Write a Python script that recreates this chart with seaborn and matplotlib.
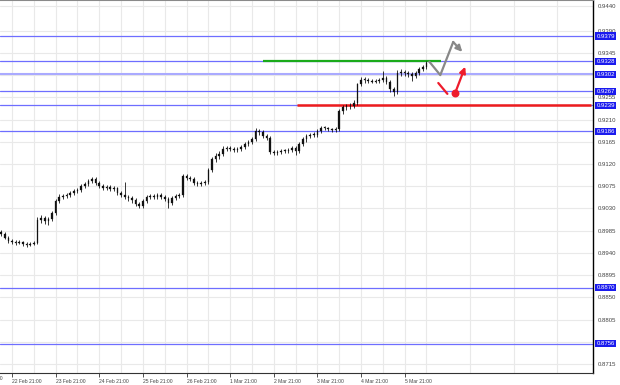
import matplotlib
matplotlib.use("Agg")
import matplotlib.pyplot as plt
import seaborn as sns
import pandas as pd
from matplotlib.transforms import blended_transform_factory

# ---------------- data (H2 bars, hours from 22 Feb 21:00) ----------------
bar_hours = list(range(-6, 229, 2))

opens = [0.8983, 0.8979, 0.8971, 0.8965, 0.8963, 0.8961, 0.8963, 0.8959, 0.8957, 0.8959,
         0.8961, 0.9007, 0.9011, 0.9005, 0.9009, 0.9021, 0.9045, 0.9053, 0.9055, 0.9057,
         0.9061, 0.9065, 0.9067, 0.9075, 0.9079, 0.9085, 0.9089, 0.9081, 0.9075, 0.9071,
         0.9073, 0.9069, 0.9071, 0.9061, 0.9057, 0.9053, 0.9051, 0.9047, 0.9039, 0.9035,
         0.9045, 0.9053, 0.9055, 0.9053, 0.9057, 0.9053, 0.9049, 0.9041, 0.9051, 0.9055,
         0.9057, 0.9095, 0.9091, 0.9089, 0.9081, 0.9079, 0.9081, 0.9083, 0.9107, 0.9131,
         0.9137, 0.9141, 0.9151, 0.9153, 0.9151, 0.9149, 0.9151, 0.9155, 0.9161, 0.9165,
         0.9171, 0.9187, 0.9185, 0.9177, 0.9173, 0.9145, 0.9143, 0.9145, 0.9147, 0.9147,
         0.9149, 0.9153, 0.9147, 0.9161, 0.9171, 0.9177, 0.9179, 0.9179, 0.9187, 0.9193,
         0.9193, 0.9191, 0.9189, 0.9191, 0.9227, 0.9235, 0.9237, 0.9237, 0.9243, 0.9281,
         0.9291, 0.9291, 0.9289, 0.9287, 0.9289, 0.9291, 0.9295, 0.9287, 0.9271, 0.9265,
         0.9305, 0.9307, 0.9305, 0.9303, 0.9299, 0.9305, 0.9313, 0.9317]

closes = [0.8979, 0.8971, 0.8965, 0.8963, 0.8961, 0.8963, 0.8959, 0.8957, 0.8959, 0.8961,
          0.9007, 0.9011, 0.9005, 0.9009, 0.9021, 0.9045, 0.9053, 0.9055, 0.9057, 0.9061,
          0.9065, 0.9067, 0.9075, 0.9079, 0.9085, 0.9089, 0.9081, 0.9075, 0.9071, 0.9073,
          0.9069, 0.9071, 0.9061, 0.9057, 0.9053, 0.9051, 0.9047, 0.9039, 0.9035, 0.9045,
          0.9053, 0.9055, 0.9053, 0.9057, 0.9053, 0.9049, 0.9041, 0.9051, 0.9055, 0.9057,
          0.9095, 0.9091, 0.9089, 0.9081, 0.9079, 0.9081, 0.9083, 0.9107, 0.9131, 0.9137,
          0.9141, 0.9151, 0.9153, 0.9151, 0.9149, 0.9151, 0.9155, 0.9161, 0.9165, 0.9171,
          0.9187, 0.9185, 0.9177, 0.9173, 0.9145, 0.9143, 0.9145, 0.9147, 0.9147, 0.9149,
          0.9153, 0.9147, 0.9161, 0.9171, 0.9177, 0.9179, 0.9179, 0.9187, 0.9193, 0.9193,
          0.9191, 0.9189, 0.9191, 0.9227, 0.9235, 0.9237, 0.9237, 0.9243, 0.9281, 0.9291,
          0.9291, 0.9289, 0.9287, 0.9289, 0.9291, 0.9295, 0.9287, 0.9271, 0.9265, 0.9305,
          0.9307, 0.9305, 0.9303, 0.9299, 0.9305, 0.9313, 0.9317, 0.9325]

highs = [0.8987, 0.8982, 0.8974, 0.8969, 0.8967, 0.8966, 0.8965, 0.8962, 0.8962, 0.8964,
         0.9012, 0.9017, 0.9015, 0.9013, 0.9025, 0.9049, 0.9059, 0.9060, 0.9061, 0.9065,
         0.9069, 0.9071, 0.9079, 0.9083, 0.9089, 0.9094, 0.9093, 0.9085, 0.9079, 0.9077,
         0.9077, 0.9075, 0.9074, 0.9065, 0.9083, 0.9057, 0.9055, 0.9051, 0.9043, 0.9049,
         0.9057, 0.9060, 0.9059, 0.9061, 0.9061, 0.9057, 0.9053, 0.9055, 0.9059, 0.9061,
         0.9099, 0.9099, 0.9095, 0.9093, 0.9085, 0.9085, 0.9087, 0.9111, 0.9135, 0.9143,
         0.9147, 0.9157, 0.9157, 0.9157, 0.9155, 0.9155, 0.9159, 0.9165, 0.9169, 0.9175,
         0.9193, 0.9191, 0.9189, 0.9181, 0.9177, 0.9149, 0.9149, 0.9151, 0.9151, 0.9153,
         0.9157, 0.9157, 0.9165, 0.9175, 0.9181, 0.9183, 0.9185, 0.9191, 0.9197, 0.9197,
         0.9195, 0.9193, 0.9195, 0.9231, 0.9239, 0.9241, 0.9243, 0.9249, 0.9285, 0.9297,
         0.9297, 0.9295, 0.9293, 0.9293, 0.9295, 0.9309, 0.9299, 0.9291, 0.9275, 0.9311,
         0.9313, 0.9311, 0.9309, 0.9307, 0.9309, 0.9317, 0.9321, 0.9329]

lows = [0.8975, 0.8968, 0.8961, 0.8959, 0.8957, 0.8958, 0.8955, 0.8953, 0.8954, 0.8956,
        0.8958, 0.9001, 0.8999, 0.8997, 0.9004, 0.9017, 0.9041, 0.9049, 0.9051, 0.9053,
        0.9057, 0.9061, 0.9063, 0.9071, 0.9075, 0.9081, 0.9077, 0.9071, 0.9067, 0.9067,
        0.9065, 0.9065, 0.9057, 0.9053, 0.9049, 0.9045, 0.9041, 0.9035, 0.9031, 0.9031,
        0.9041, 0.9049, 0.9049, 0.9049, 0.9049, 0.9045, 0.9031, 0.9037, 0.9047, 0.9051,
        0.9053, 0.9087, 0.9085, 0.9077, 0.9075, 0.9075, 0.9077, 0.9079, 0.9103, 0.9125,
        0.9131, 0.9137, 0.9147, 0.9147, 0.9145, 0.9145, 0.9147, 0.9151, 0.9157, 0.9161,
        0.9167, 0.9179, 0.9173, 0.9169, 0.9141, 0.9139, 0.9139, 0.9141, 0.9143, 0.9143,
        0.9145, 0.9139, 0.9143, 0.9157, 0.9165, 0.9173, 0.9175, 0.9175, 0.9183, 0.9189,
        0.9187, 0.9185, 0.9185, 0.9187, 0.9221, 0.9229, 0.9231, 0.9233, 0.9239, 0.9277,
        0.9285, 0.9285, 0.9283, 0.9283, 0.9285, 0.9287, 0.9281, 0.9265, 0.9257, 0.9261,
        0.9299, 0.9299, 0.9297, 0.9289, 0.9295, 0.9301, 0.9309, 0.9313]

# horizontal levels with price boxes
level_prices = [0.9379, 0.9328, 0.9302, 0.9267, 0.9239, 0.9186, 0.8870, 0.8756]
highlight_level = 0.9302

# green resistance segment and red support segment (hours, price)
green_level = 0.9328
green_span = [137.8, 236.2]
red_level = 0.9239
red_span = [156.5, 318.5]

# forecast drawings (hours, price)
grey_path_h = [229.6, 235.6, 242.7, 247.7]
grey_path_p = [0.9327, 0.9300, 0.9367, 0.9347]
red_dash_h = [234.5, 239.5]
red_dash_p = [0.9284, 0.9262]
red_arrow_h = [243.8, 249.3]
red_arrow_p = [0.9264, 0.9317]

# axes labelling
day_ticks = [0, 24, 48, 72, 96, 120, 144, 168, 192, 216]
day_labels = ["22 Feb 21:00", "23 Feb 21:00", "24 Feb 21:00", "25 Feb 21:00",
              "26 Feb 21:00", "1 Mar 21:00", "2 Mar 21:00", "3 Mar 21:00",
              "4 Mar 21:00", "5 Mar 21:00"]
price_ticks = [0.8715, 0.8760, 0.8805, 0.8850, 0.8895, 0.8940, 0.8985, 0.9030,
               0.9075, 0.9120, 0.9165, 0.9210, 0.9255, 0.9300, 0.9345, 0.9390, 0.9440]
price_tick_labels = ["0.8715", "", "0.8805", "0.8850", "0.8895", "0.8940", "0.8985",
                     "0.9030", "0.9075", "0.9120", "0.9165", "0.9210", "0.9255", "",
                     "0.9345", "0.9390", "0.9440"]

# ---------------- figure ----------------
sns.set_theme(style="white")
plt.rcParams["font.family"] = ["Liberation Sans", "DejaVu Sans"]

W, H = 620, 385
fig = plt.figure(figsize=(W / 100, H / 100), dpi=100)
ax = fig.add_axes([0, 12 / H, 593 / W, 373 / H])

n = min(len(bar_hours), len(opens), len(closes), len(highs), len(lows))
df = pd.DataFrame({"hour": bar_hours[:n], "open": opens[:n], "close": closes[:n],
                   "high": highs[:n], "low": lows[:n]})
df["lo_body"] = df[["open", "close"]].min(axis=1)
df["body"] = (df["close"] - df["open"]).abs().clip(lower=0.00012)

xmin, xmax = -6.6, 319.6
ax.set_xlim(xmin, xmax)
ax.set_ylim(0.8697, 0.9452)

# grid
ax.set_xticks(day_ticks)
ax.set_xticks([h for h in range(12, 320, 24)], minor=True)
ax.set_yticks(price_ticks)
ax.grid(True, which="both", axis="x", color="#e9e9e9", lw=0.8, ls="-")
ax.grid(True, which="major", axis="y", color="#e9e9e9", lw=0.8, ls="-")
ax.set_axisbelow(True)

# level lines
for p in level_prices:
    if abs(p - highlight_level) < 1e-6:
        ax.axhline(p, color="#aaaaff", lw=1.5, zorder=1)
    else:
        ax.axhline(p, color="#6e6eff", lw=0.9, zorder=1)
ax.hlines(green_level, green_span[0], green_span[1], color="#1aaa1a", lw=1.6, zorder=2)
ax.hlines(red_level, red_span[0], red_span[1], color="#ee1c1c", lw=1.8, zorder=2)

# candles
ax.vlines(df["hour"], df["low"], df["high"], color="black", lw=0.55, zorder=3)
ax.bar(df["hour"], df["body"], bottom=df["lo_body"], width=0.9, color="#111111",
       edgecolor="#111111", lw=0.2, zorder=3)

# forecast drawings
sns.lineplot(x=grey_path_h[:-1], y=grey_path_p[:-1], sort=False, ax=ax,
             color="#888888", lw=1.6, zorder=4)
ax.annotate("", xy=(grey_path_h[-1], grey_path_p[-1]),
            xytext=(grey_path_h[-2], grey_path_p[-2]),
            arrowprops=dict(arrowstyle="-|>", color="#888888", lw=1.6,
                            mutation_scale=9, shrinkA=0, shrinkB=0), zorder=4)
sns.lineplot(x=red_dash_h, y=red_dash_p, sort=False, ax=ax, color="#ee1c2c",
             lw=1.6, zorder=4)
ax.scatter([red_arrow_h[0]], [red_arrow_p[0]], s=22, color="#ee1c2c", zorder=5)
ax.annotate("", xy=(red_arrow_h[1], red_arrow_p[1]),
            xytext=(red_arrow_h[0], red_arrow_p[0]),
            arrowprops=dict(arrowstyle="-|>", color="#ee1c2c", lw=1.6,
                            mutation_scale=9, shrinkA=0, shrinkB=0), zorder=5)

# axes styling
ax.spines["left"].set_visible(False)
ax.spines["top"].set_color("#8a8a8a")
ax.spines["top"].set_linewidth(1.5)
ax.spines["right"].set_color("black")
ax.spines["right"].set_linewidth(1.0)
ax.spines["bottom"].set_color("#333333")
ax.spines["bottom"].set_linewidth(0.8)

ax.yaxis.tick_right()
ax.set_yticklabels(price_tick_labels)
ax.tick_params(axis="y", which="major", right=True, length=0, pad=3.5,
               labelsize=4.3, labelcolor="#444444")
ax.set_xticklabels(day_labels)
ax.tick_params(axis="x", which="major", bottom=True, length=3, width=0.6,
               color="#333333", pad=1, labelsize=3.6, labelcolor="#444444")
ax.tick_params(axis="x", which="minor", bottom=False)
for lab in ax.get_xticklabels():
    lab.set_ha("left")
ax.set_xlabel("")
ax.set_ylabel("")

# price boxes
trans = blended_transform_factory(ax.transAxes, ax.transData)
for p in level_prices:
    ax.text(1.0055, p, f"{p:.4f}", transform=trans, ha="left", va="center",
            fontsize=4.3, color="white", clip_on=False, zorder=6,
            bbox=dict(boxstyle="square,pad=0.18", fc="#1a1aee", ec="none"))

# date label cut off at the left edge, as in the reference
fig.text(3 / W, 1 - 379 / H, "21 Feb 21:00", ha="right", va="center",
         fontsize=3.6, color="#444444")

fig.savefig("out.png", dpi=100)
